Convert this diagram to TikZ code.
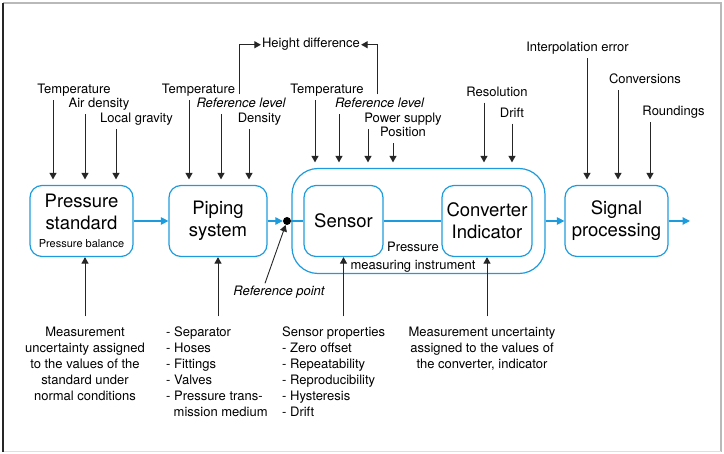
\documentclass[tikz,border=0pt]{standalone}
\usepackage{fontspec}
\setmainfont{TeX Gyre Heros}
\usetikzlibrary{arrows.meta}

\definecolor{flowblue}{RGB}{30,155,220}
\newcommand{\labelsize}{\fontsize{13}{16}\selectfont}
\newcommand{\boxsize}{\fontsize{18.5}{22}\selectfont}

\begin{document}
\begin{tikzpicture}[x=1pt,y=-1pt]
        \tikzstyle{block}=[draw=flowblue,line width=1.2pt,rounded corners=12pt,minimum height=71pt,align=center,font=\boxsize,inner sep=2pt]
        \tikzstyle{factor}=[font=\labelsize,inner sep=1pt,text depth=3pt,anchor=base]
        \tikzstyle{note}=[font=\labelsize,inner sep=1pt]
        \tikzstyle{feed}=[-{Triangle[length=6.5pt,width=7pt]},black!85,line width=0.9pt]
        \tikzstyle{from above}=[feed,shorten <=2pt,shorten >=5.5pt]
        \tikzstyle{flow}=[-{Triangle[length=7.5pt,width=7.5pt]},flowblue,line width=1.2pt]

        \useasboundingbox (0,0) rectangle (724,454);

        % Frame
        \draw[gray!55,line width=1.5pt] (3,3) -- (721,3) -- (721,452);
        \draw[gray!25,line width=1pt] (721,452) -- (3,452);
        \draw[black!85,line width=1.5pt] (3,452) -- (3,3);

        % Main chain of blocks
        \node[block,minimum width=103pt](ps) at (81.5,221){Pressure\\standard\\[-4pt]{\fontsize{11}{13}\selectfont Pressure balance}};
        \node[block,minimum width=98pt](pi) at (218,221){Piping\\system};
        \node[draw=flowblue,line width=1.2pt,rounded corners=26pt,minimum width=253pt,minimum height=105pt](pmi) at (418.5,221){};
        \node[block,minimum width=79pt](se) at (343.5,221){Sensor};
        \node[block,minimum width=90pt](cv) at (487,221){Converter\\Indicator};
        \node[block,minimum width=103pt](sp) at (616.5,221){Signal\\processing};
        \node[note,align=center](pmil) at (413,257){Pressure\\[2pt]measuring instrument};
        \node[circle,fill=black,inner sep=0pt,minimum size=8pt](rp) at (287,221){};
        \coordinate (out) at (690,221);

        \draw[flow] (ps) -- (pi);
        \draw[flow] (pi) -- (rp);
        \draw[flowblue,line width=1.2pt] (rp) -- (se);
        \draw[flowblue,line width=1.2pt] (se) -- (cv);
        \draw[flow] (pmi) -- (sp);
        \draw[flow] (sp) -- (out);

        % Influences from above
        \node[factor](ps1) at (74,94){Temperature};
        \node[factor](ps2) at (99,108){Air density};
        \node[factor](ps3) at (136.5,123){Local gravity};
        \node[factor](pi1) at (198.5,94){Temperature};
        \node[factor,font=\labelsize\itshape](pi2) at (241,108){Reference level};
        \node[factor](pi3) at (259.5,123){Density};
        \node[factor](se1) at (327,94){Temperature};
        \node[factor,font=\labelsize\itshape](se2) at (379.5,108){Reference level};
        \node[factor](se3) at (403,123){Power supply};
        \node[factor](se4) at (403,137){Position};
        \node[factor](cv1) at (497,96.5){Resolution};
        \node[factor](cv2) at (512,117.5){Drift};
        \node[factor](sp1) at (577.5,52){Interpolation error};
        \node[factor](sp2) at (645,84){Conversions};
        \node[factor](sp3) at (673.5,116){Roundings};
        \node[factor](hd) at (311,48){Height difference};

        \draw[from above] (ps1.south -| 53,0) -- (53,0 |- ps.north);
        \draw[from above] (ps2.south -| 85,0) -- (85,0 |- ps.north);
        \draw[from above] (ps3.south -| 116,0) -- (116,0 |- ps.north);
        \draw[from above] (pi1.south -| 189,0) -- (189,0 |- pi.north);
        \draw[from above] (pi2.south -| 221,0) -- (221,0 |- pi.north);
        \draw[from above] (pi3.south -| 249,0) -- (249,0 |- pi.north);
        \draw[from above] (se1.south -| 315,0) -- (315,0 |- pmi.north);
        \draw[from above] (se2.south -| 339,0) -- (339,0 |- pmi.north);
        \draw[from above] (se3.south -| 368,0) -- (368,0 |- pmi.north);
        \draw[from above] (se4.south -| 393,0) -- (393,0 |- pmi.north);
        \draw[from above] (cv1.south -| 484,0) -- (484,0 |- pmi.north);
        \draw[from above] (cv2.south -| 512,0) -- (512,0 |- pmi.north);
        \draw[from above] (sp1.south -| 587,0) -- (587,0 |- sp.north);
        \draw[from above] (sp2.south -| 618,0) -- (618,0 |- sp.north);
        \draw[from above] (sp3.south -| 650,0) -- (650,0 |- sp.north);

        % Height difference between the two reference levels
        \draw[feed] ([xshift=3pt]pi1.base east) |- (hd.west);
        \draw[feed] ([xshift=-2pt,yshift=3pt]se2.north) |- (hd.east);

        % Notes below
        \node[note,align=center,anchor=north](psn) at (85,325.5){Measurement\\uncertainty assigned\\to the values of the\\standard under\\normal conditions};
        \node[note,align=left,anchor=north west](pin) at (165,325.5){- Separator\\- Hoses\\- Fittings\\- Valves\\- Pressure trans-\\\hspace*{7.5pt}mission medium};
        \node[note,align=left,anchor=north west](sen) at (281,325.5){Sensor properties\\- Zero offset\\- Repeatability\\- Reproducibility\\- Hysteresis\\- Drift};
        \node[note,align=center,anchor=north](cvn) at (482,325.5){Measurement uncertainty\\assigned to the values of\\the converter, indicator};
        \node[factor,font=\labelsize\itshape](rpl) at (279,296){Reference point};

        \draw[feed] ([yshift=9pt]psn.north) -- (psn.north |- ps.south);
        \draw[feed] (pin.north -| pi.south) ++(0,-9) -- (pi.south);
        \draw[feed] (sen.north -| se.south) ++(0,-9) -- (se.south);
        \draw[feed] (cvn.north -| cv.south) ++(0,-9) -- (cv.south);
        \draw[feed] ([xshift=-14pt,yshift=2pt]rpl.north) -- (rp);
\end{tikzpicture}
\end{document}
